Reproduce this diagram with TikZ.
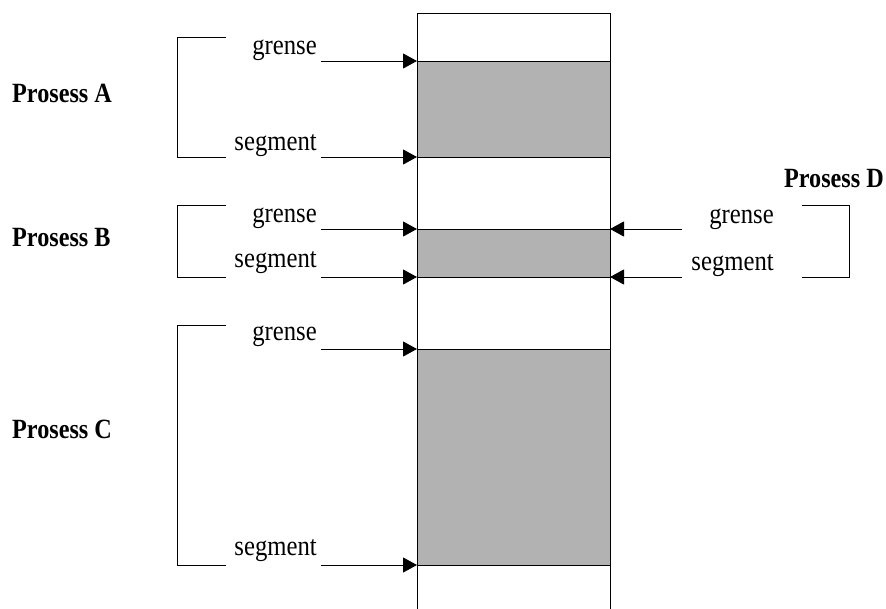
\documentclass[tikz,border=0pt]{standalone}
\usepackage{fontspec}
\usepackage{graphicx}
\setmainfont{Liberation Serif}
\usetikzlibrary{arrows.meta}
\definecolor{blockgray}{RGB}{178,178,178}
% labels are set in a slightly condensed (tall) face
\newcommand{\tall}[1]{\scalebox{1}[1.15]{#1}}
\tikzset{
  lbl/.style={anchor=base east, inner sep=0pt, font=\fontsize{24.7}{30}\selectfont},
  plbl/.style={anchor=base west, inner sep=0pt, font=\fontsize{24.2}{30}\selectfont\bfseries},
  ptr/.style={line width=1pt, -{Triangle[length=14pt,width=15pt]}},
  brk/.style={line width=1pt},
  mem/.style={line width=1pt},
  blk/.style={fill=blockgray, draw=black, line width=1pt}
}
\begin{document}
\begin{tikzpicture}[x=1pt, y=-1pt]
\useasboundingbox (0,0) rectangle (886,608);

% allocated blocks inside memory
\fill[blockgray] (417,61) rectangle (610,157);
\fill[blockgray] (417,229) rectangle (610,277);
\fill[blockgray] (417,349) rectangle (610,565);
\draw[mem] (417,61) -- (610,61) (417,157) -- (610,157);
\draw[mem] (417,229) -- (610,229) (417,277) -- (610,277);
\draw[mem] (417,349) -- (610,349) (417,565) -- (610,565);

% memory column
\draw[mem] (417,609) -- (417,13) -- (610,13) -- (610,609);

% memory edge points
\coordinate (mAg) at (417,61);
\coordinate (mAs) at (417,157);
\coordinate (mBg) at (417,229);
\coordinate (mBs) at (417,277);
\coordinate (mCg) at (417,349);
\coordinate (mCs) at (417,565);
\coordinate (mDg) at (610,229);
\coordinate (mDs) at (610,277);

% Prosess A
\node[plbl] (pA) at (12,102) {\tall{Prosess A}};
\node[lbl] (gA) at (317,54) {\tall{grense}};
\node[lbl] (sA) at (317,150) {\tall{segment}};
\coordinate (gAs) at (321,61);
\coordinate (sAs) at (321,157);
\draw[ptr] (gAs) -- (mAg);
\draw[ptr] (sAs) -- (mAs);
\draw[brk] (226,37) -- (177,37) -- (177,157) -- (226,157);

% Prosess B
\node[plbl] (pB) at (12,246) {\tall{Prosess B}};
\node[lbl] (gB) at (317,222) {\tall{grense}};
\node[lbl] (sB) at (317,267) {\tall{segment}};
\coordinate (gBs) at (321,229);
\coordinate (sBs) at (321,277);
\draw[ptr] (gBs) -- (mBg);
\draw[ptr] (sBs) -- (mBs);
\draw[brk] (226,205) -- (177,205) -- (177,277) -- (226,277);

% Prosess C
\node[plbl] (pC) at (12,438) {\tall{Prosess C}};
\node[lbl] (gC) at (317,340) {\tall{grense}};
\node[lbl] (sC) at (317,555) {\tall{segment}};
\coordinate (gCs) at (321,349);
\coordinate (sCs) at (321,565);
\draw[ptr] (gCs) -- (mCg);
\draw[ptr] (sCs) -- (mCs);
\draw[brk] (226,325) -- (177,325) -- (177,565) -- (226,565);

% Prosess D
\node[plbl, anchor=base east] (pD) at (884,187) {\tall{Prosess D}};
\node[lbl] (gD) at (774,223) {\tall{grense}};
\node[lbl] (sD) at (774,270) {\tall{segment}};
\coordinate (gDs) at (682,229);
\coordinate (sDs) at (682,277);
\draw[ptr] (gDs) -- (mDg);
\draw[ptr] (sDs) -- (mDs);
\draw[brk] (802,205) -- (849,205) -- (849,277) -- (802,277);
\end{tikzpicture}
\end{document}
